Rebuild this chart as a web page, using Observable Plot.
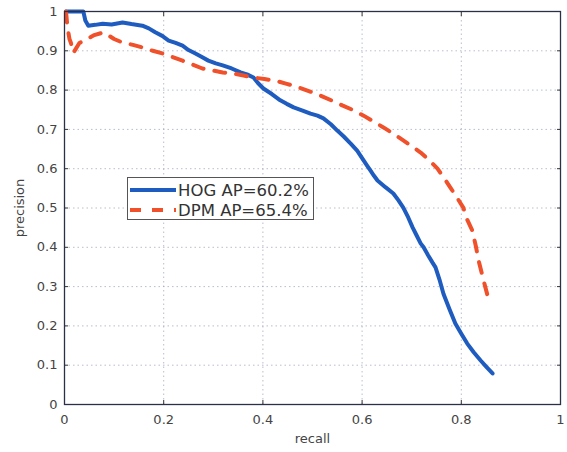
<!DOCTYPE html>
<html><head><meta charset="utf-8">
<script src="https://cdn.jsdelivr.net/npm/d3@7"></script>
<script src="https://cdn.jsdelivr.net/npm/@observablehq/plot@0.6"></script>
<style>
body{margin:0;background:#fff;}
#wrap{position:relative;width:567px;height:452px;font-family:"DejaVu Sans",sans-serif;}
#legend{position:absolute;left:127px;top:177px;width:185px;height:41px;border:1px solid #555;background:#fff;font-size:16.5px;color:#333;}
#legend .row{position:absolute;left:0;height:20px;display:flex;align-items:center;}
#legend svg{margin-left:2px;margin-right:2px;}
</style></head>
<body><div id="wrap"><div id="legend"></div></div>
<script>
// HOG curve (recall, precision)
const hogRecall = [0.003,0.038,0.042,0.048,0.062,0.077,0.095,0.117,0.135,0.157,0.17,0.183,0.197,0.21,0.224,0.238,0.25,0.264,0.277,0.29,0.305,0.319,0.337,0.355,0.368,0.381,0.39,0.401,0.418,0.435,0.448,0.462,0.48,0.496,0.51,0.522,0.537,0.55,0.563,0.577,0.59,0.603,0.61,0.617,0.624,0.631,0.647,0.663,0.673,0.683,0.693,0.702,0.71,0.718,0.724,0.733,0.742,0.748,0.756,0.764,0.776,0.788,0.8,0.812,0.825,0.839,0.851,0.863];
const hogPrecision = [1.0,1.0,0.977,0.964,0.966,0.969,0.967,0.972,0.968,0.964,0.957,0.947,0.938,0.926,0.92,0.913,0.902,0.893,0.884,0.875,0.868,0.863,0.855,0.845,0.84,0.832,0.818,0.804,0.79,0.774,0.765,0.756,0.748,0.740,0.735,0.728,0.713,0.697,0.682,0.664,0.646,0.621,0.608,0.595,0.582,0.570,0.553,0.537,0.52,0.501,0.476,0.450,0.43,0.41,0.40,0.38,0.361,0.349,0.318,0.282,0.243,0.206,0.18,0.155,0.133,0.112,0.095,0.079];
// DPM curve (recall, precision)
const dpmRecall = [0.003,0.006,0.01,0.013,0.018,0.03,0.04,0.06,0.079,0.1,0.117,0.138,0.159,0.178,0.198,0.218,0.238,0.258,0.278,0.298,0.319,0.341,0.361,0.381,0.403,0.425,0.448,0.472,0.494,0.516,0.538,0.56,0.582,0.603,0.623,0.643,0.663,0.683,0.7,0.718,0.735,0.752,0.765,0.778,0.791,0.804,0.812,0.822,0.829,0.835,0.844,0.853,0.857];
const dpmPrecision = [1.0,0.96,0.93,0.92,0.895,0.92,0.926,0.94,0.947,0.93,0.921,0.915,0.908,0.9,0.893,0.884,0.875,0.865,0.855,0.85,0.845,0.842,0.837,0.832,0.828,0.824,0.816,0.807,0.797,0.786,0.774,0.761,0.749,0.735,0.72,0.705,0.689,0.672,0.657,0.641,0.622,0.600,0.577,0.552,0.527,0.501,0.47,0.443,0.405,0.366,0.32,0.277,0.268];
// Axis ticks
const xTicks = [0,0.2,0.4,0.6,0.8,1];
const yTicks = [0,0.1,0.2,0.3,0.4,0.5,0.6,0.7,0.8,0.9,1];
// Series
const seriesNames = ["HOG AP=60.2%","DPM AP=65.4%"];
const seriesColors = ["#1f5cc0","#f0502a"];

const hog = hogRecall.map((r,i)=>({recall:r, precision:hogPrecision[i]}));
const dpm = dpmRecall.map((r,i)=>({recall:r, precision:dpmPrecision[i]}));
const fmt = d => String(d);
const grid = {stroke:"#9aa3b8", strokeOpacity:0.7, strokeDasharray:"1.5,3"};

const chart = Plot.plot({
  width:567, height:452,
  marginLeft:64, marginRight:7, marginTop:11, marginBottom:48,
  style:{fontFamily:"DejaVu Sans, sans-serif", fontSize:"13px", color:"#444", background:"transparent"},
  x:{domain:[0,1]},
  y:{domain:[0,1]},
  marks:[
    Plot.gridX(xTicks.slice(1,-1), grid),
    Plot.gridY(yTicks.slice(1,-1), grid),
    Plot.axisX(xTicks, {tickSize:-4, tickFormat:()=>"", label:null, stroke:"#333"}),
    Plot.axisX(xTicks, {anchor:"top", tickSize:-4, tickFormat:()=>"", label:null, stroke:"#333"}),
    Plot.axisY(yTicks, {tickSize:-4, tickFormat:()=>"", label:null, stroke:"#333"}),
    Plot.axisY(yTicks, {anchor:"right", tickSize:-4, tickFormat:()=>"", label:null, stroke:"#333"}),
    Plot.axisX(xTicks, {tickSize:0, tickPadding:10, tickFormat:fmt, label:"recall", labelAnchor:"center", labelArrow:"none", labelOffset:38, fill:"#444"}),
    Plot.axisY(yTicks, {tickSize:0, tickPadding:7, tickFormat:fmt, label:"precision", labelAnchor:"center", labelArrow:"none", labelOffset:50, fill:"#444"}),
    Plot.line(hog, {x:"recall", y:"precision", stroke:seriesColors[0], strokeWidth:4, strokeLinejoin:"round"}),
    Plot.line(dpm, {x:"recall", y:"precision", stroke:seriesColors[1], strokeWidth:4, strokeDasharray:"11,11", strokeLinejoin:"round"}),
    Plot.frame({stroke:"#2b3048", strokeWidth:1.3})
  ]
});
const wrap = document.getElementById("wrap");
wrap.insertBefore(chart, wrap.firstChild);
chart.style.position="absolute"; chart.style.left="0"; chart.style.top="0";

const legend = document.getElementById("legend");
seriesNames.forEach((name,i)=>{
  const row = document.createElement("div");
  row.className="row";
  row.style.top = (i===0 ? 2 : 22) + "px";
  const dash = i===1 ? ' stroke-dasharray="11,11"' : '';
  row.innerHTML = `<svg width="46" height="8"><line x1="0" x2="46" y1="4" y2="4" stroke="${seriesColors[i]}" stroke-width="4"${dash}/></svg><span>${name}</span>`;
  legend.appendChild(row);
});
</script>
</body></html>
